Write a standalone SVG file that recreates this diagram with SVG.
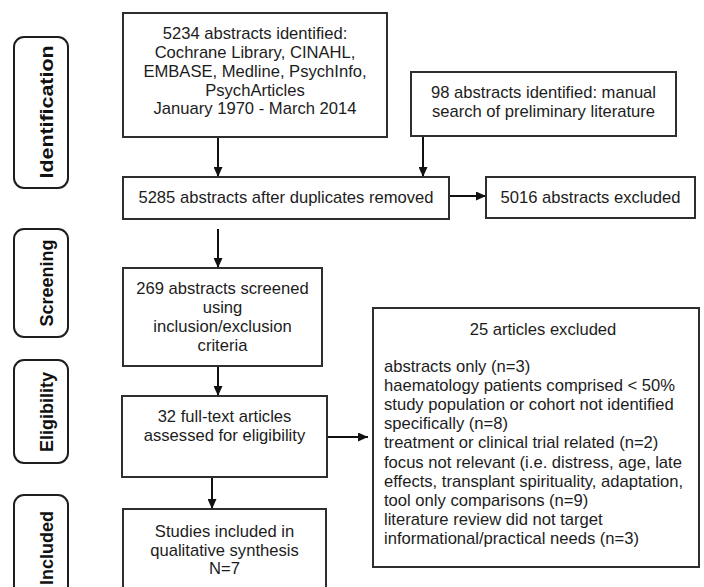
<svg xmlns="http://www.w3.org/2000/svg" width="704" height="587" viewBox="0 0 704 587">
<defs>
<style>
.box{fill:#fff;stroke:#2e2e2e;stroke-width:2}
.pill{fill:#fff;stroke:#1e1e1e;stroke-width:2}
.t{font-family:"Liberation Sans",Arial,sans-serif;font-size:16.6px;fill:#1c1c1c}
.c{text-anchor:middle}
.lbl{font-family:"Liberation Sans",Arial,sans-serif;font-size:18px;font-weight:bold;fill:#111;text-anchor:middle}
.con{stroke:#111;stroke-width:2;fill:none;marker-end:url(#ah)}
</style>
<marker id="ah" markerUnits="userSpaceOnUse" markerWidth="10" markerHeight="9" refX="10" refY="4.5" orient="auto">
<path d="M0,0 L10,4.5 L0,9 z" fill="#111"/>
</marker>
</defs>
<rect width="704" height="587" fill="#fff"/>

<g id="stage-identification">
<rect class="pill" x="14" y="37" width="54" height="151" rx="10"/>
<text class="lbl" transform="translate(53,112) rotate(-90)" textLength="133" lengthAdjust="spacingAndGlyphs">Identification</text>
</g>
<g id="stage-screening">
<rect class="pill" x="14" y="229" width="54" height="108" rx="10"/>
<text class="lbl" transform="translate(53,283) rotate(-90)">Screening</text>
</g>
<g id="stage-eligibility">
<rect class="pill" x="14" y="360" width="54" height="103" rx="10"/>
<text class="lbl" transform="translate(53,412) rotate(-90)">Eligibility</text>
</g>
<g id="stage-included">
<rect class="pill" x="14" y="495" width="54" height="110" rx="10"/>
<text class="lbl" transform="translate(53,548) rotate(-90)">Included</text>
</g>

<g id="connectors">
<line class="con" x1="218" y1="137" x2="218" y2="177"/>
<line class="con" x1="423" y1="136" x2="423" y2="177"/>
<line class="con" x1="449" y1="196" x2="486" y2="196"/>
<line class="con" x1="218" y1="229" x2="218" y2="268"/>
<line class="con" x1="218" y1="366" x2="218" y2="396"/>
<line class="con" x1="327" y1="437" x2="368" y2="437"/>
<line class="con" x1="212" y1="477" x2="212" y2="509"/>
</g>

<g id="n-databases">
<rect class="box" x="123" y="13" width="264" height="124"/>
<text class="t c" x="255" y="39">5234 abstracts identified:</text>
<text class="t c" x="255" y="58">Cochrane Library, CINAHL,</text>
<text class="t c" x="255" y="77">EMBASE, Medline, PsychInfo,</text>
<text class="t c" x="255" y="95.5">PsychArticles</text>
<text class="t c" x="255" y="114">January 1970 - March 2014</text>
</g>
<g id="n-manual">
<rect class="box" x="411" y="72" width="265" height="64"/>
<text class="t c" x="543.5" y="98">98 abstracts identified: manual</text>
<text class="t c" x="543.5" y="117">search of preliminary literature</text>
</g>
<g id="n-dedup">
<rect class="box" x="123" y="177" width="326" height="42"/>
<text class="t c" x="286" y="203">5285 abstracts after duplicates removed</text>
</g>
<g id="n-excluded-abstracts">
<rect class="box" x="486" y="177" width="209" height="41"/>
<text class="t c" x="590.5" y="203">5016 abstracts excluded</text>
</g>
<g id="n-screened">
<rect class="box" x="123" y="268" width="199" height="98"/>
<text class="t c" x="222.5" y="294">269 abstracts screened</text>
<text class="t c" x="222.5" y="313">using</text>
<text class="t c" x="222.5" y="332">inclusion/exclusion</text>
<text class="t c" x="222.5" y="351">criteria</text>
</g>
<g id="n-fulltext">
<rect class="box" x="122" y="396" width="205" height="81"/>
<text class="t c" x="224.5" y="422">32 full-text articles</text>
<text class="t c" x="224.5" y="441">assessed for eligibility</text>
</g>
<g id="n-excluded-articles">
<rect class="box" x="373" y="308" width="326" height="259"/>
<text class="t c" x="543" y="335">25 articles excluded</text>
<text class="t" x="384" y="372">abstracts only (n=3)</text>
<text class="t" x="384" y="391">haematology patients comprised &lt; 50%</text>
<text class="t" x="384" y="410">study population or cohort not identified</text>
<text class="t" x="384" y="429">specifically (n=8)</text>
<text class="t" x="384" y="448">treatment or clinical trial related (n=2)</text>
<text class="t" x="384" y="468">focus not relevant (i.e. distress, age, late</text>
<text class="t" x="384" y="487">effects, transplant spirituality, adaptation,</text>
<text class="t" x="384" y="506">tool only comparisons (n=9)</text>
<text class="t" x="384" y="525">literature review did not target</text>
<text class="t" x="384" y="544">informational/practical needs (n=3)</text>
</g>
<g id="n-included">
<rect class="box" x="123" y="509" width="203" height="100"/>
<text class="t c" x="224.5" y="537">Studies included in</text>
<text class="t c" x="224.5" y="556">qualitative synthesis</text>
<text class="t c" x="224.5" y="574">N=7</text>
</g>
</svg>
